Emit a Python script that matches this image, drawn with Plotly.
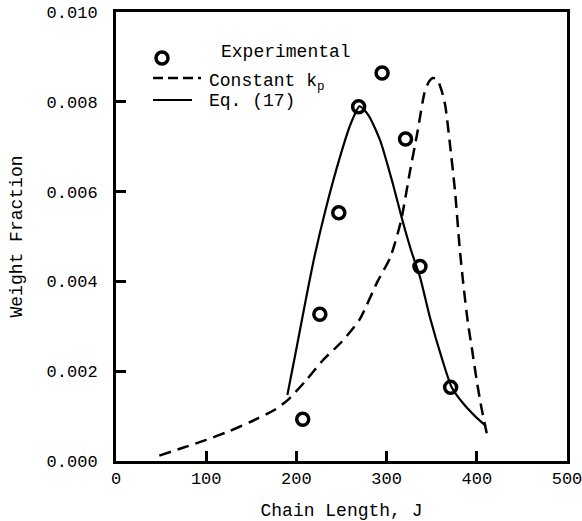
import plotly.graph_objects as go

# Experimental data points
exp_J = [207, 226, 247, 269, 295, 321, 337, 371]
exp_w = [0.00093, 0.00327, 0.00553, 0.00789, 0.00864, 0.00717, 0.00433, 0.00164]

# Constant k_p (dashed)
kp_J = [48, 75, 100, 125, 150, 175, 190, 210, 230, 250, 270, 290, 304, 316, 326, 334,
        342, 347, 351, 356, 361, 365, 370, 376, 381, 385, 390, 395, 400, 405, 411]
kp_w = [0.00012, 0.00030, 0.00047, 0.00066, 0.00088, 0.00113, 0.00135, 0.00178, 0.00226,
        0.00265, 0.00315, 0.00400, 0.00453, 0.00535, 0.00646, 0.00730, 0.00820, 0.00845,
        0.00853, 0.00850, 0.00825, 0.00792, 0.00710, 0.00598, 0.00475, 0.00395, 0.00310,
        0.00245, 0.00178, 0.00120, 0.00062]

# Eq. (17) (solid)
eq_J = [190, 200, 210, 220, 232, 248, 260, 270, 280, 293, 307, 317, 327, 337, 348, 362,
        372, 385, 398, 410]
eq_w = [0.00147, 0.00250, 0.00355, 0.00455, 0.00557, 0.00675, 0.00750, 0.00790, 0.00770,
        0.00713, 0.00617, 0.00540, 0.00470, 0.00410, 0.00320, 0.00224, 0.00165, 0.00128,
        0.00100, 0.00078]

x_ticks = [0, 100, 200, 300, 400, 500]
y_ticks = [0.000, 0.002, 0.004, 0.006, 0.008, 0.010]
y_ticktext = ["0.000", "0.002", "0.004", "0.006", "0.008", "0.010"]

FONT = "Liberation Mono, DejaVu Sans Mono, monospace"

fig = go.Figure()
fig.add_trace(go.Scatter(x=kp_J, y=kp_w, mode="lines",
                         line=dict(color="black", width=2.5, dash="12px,7px",
                                   shape="spline", smoothing=0.6),
                         showlegend=False))
fig.add_trace(go.Scatter(x=eq_J, y=eq_w, mode="lines",
                         line=dict(color="black", width=2.2, shape="spline",
                                   smoothing=0.6),
                         showlegend=False))
fig.add_trace(go.Scatter(x=exp_J, y=exp_w, mode="markers",
                         marker=dict(symbol="circle-open", size=12, color="black",
                                     line=dict(color="black", width=3.5)),
                         showlegend=False))

W, H = 582, 521
L, R, T, B = 116, 15, 12, 60
pw, ph = W - L - R, H - T - B

def px(x):
    return (x - L) / pw

def py(y):
    return (H - B - y) / ph

shapes = [
    dict(type="circle", xref="paper", yref="paper",
         x0=px(156), x1=px(168), y0=py(64), y1=py(52),
         line=dict(color="black", width=3.5)),
    dict(type="line", xref="paper", yref="paper",
         x0=px(153), x1=px(201), y0=py(78), y1=py(78),
         line=dict(color="black", width=2.5, dash="10px,5px")),
    dict(type="line", xref="paper", yref="paper",
         x0=px(153), x1=px(192), y0=py(100), y1=py(100),
         line=dict(color="black", width=2.2)),
]

annotations = [
    dict(text="Experimental", xref="paper", yref="paper", x=px(219), y=py(52),
         xanchor="left", yanchor="middle", showarrow=False,
         font=dict(family=FONT, size=18, color="black")),
    dict(text="Constant k<sub>p</sub>", xref="paper", yref="paper", x=px(207), y=py(82),
         xanchor="left", yanchor="middle", showarrow=False,
         font=dict(family=FONT, size=18, color="black")),
    dict(text="Eq. (17)", xref="paper", yref="paper", x=px(207), y=py(101),
         xanchor="left", yanchor="middle", showarrow=False,
         font=dict(family=FONT, size=18, color="black")),
]

fig.update_layout(
    width=W, height=H,
    margin=dict(l=L, r=R, t=T, b=B, autoexpand=False),
    plot_bgcolor="white", paper_bgcolor="white",
    font=dict(family=FONT, size=17, color="black"),
    shapes=shapes, annotations=annotations,
    showlegend=False,
)
fig.update_xaxes(range=[0, 500], tickvals=x_ticks, ticks="inside", ticklen=10,
                 tickwidth=3, tickcolor="black", showline=True, linewidth=3,
                 linecolor="black", mirror=True, showgrid=False, zeroline=False,
                 ticklabeloverflow="allow", automargin=False,
                 tickfont=dict(family=FONT, size=17),
                 title=dict(text="Chain Length, J", font=dict(family=FONT, size=18),
                            standoff=15))
fig.update_yaxes(range=[0, 0.010], tickvals=y_ticks, ticktext=y_ticktext,
                 ticks="inside", ticklen=10, tickwidth=3, tickcolor="black",
                 showline=True, linewidth=3, linecolor="black", mirror=True,
                 showgrid=False, zeroline=False, ticklabelstandoff=12,
                 ticklabeloverflow="allow", automargin=False,
                 tickfont=dict(family=FONT, size=17),
                 title=dict(text="Weight Fraction", font=dict(family=FONT, size=18),
                            standoff=20))

fig.write_html("out.html")
